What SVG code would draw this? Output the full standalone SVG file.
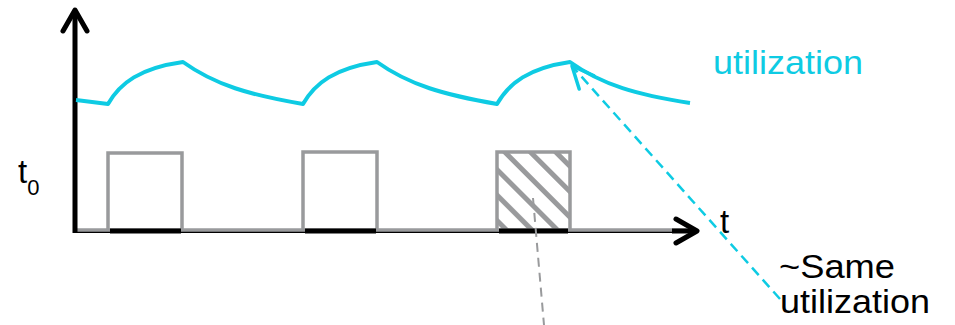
<svg xmlns="http://www.w3.org/2000/svg" width="955" height="325" viewBox="0 0 955 325">
<style>
.txt{font-family:"Liberation Sans",Arial,sans-serif;fill:#000}
.cy{fill:#0ECBE3}
.pulse{fill:none;stroke:#999a9c;stroke-width:3.5}
.curve{fill:none;stroke:#0ECBE3;stroke-width:4;stroke-linejoin:round}
.axis{fill:none;stroke:#000;stroke-width:5}
.on{stroke:#000;stroke-width:5}
</style>
<defs>
<marker id="ah" markerUnits="userSpaceOnUse" markerWidth="40" markerHeight="40" viewBox="-30 -20 40 40" refX="0" refY="0" orient="auto" overflow="visible">
<path d="M-21,-12 L0,0 L-21,12" fill="none" stroke="#000" stroke-width="5" stroke-linecap="round" stroke-linejoin="round"/>
</marker>
<marker id="ahc" markerUnits="userSpaceOnUse" markerWidth="40" markerHeight="40" viewBox="-30 -20 40 40" refX="0" refY="0" orient="auto" overflow="visible">
<path d="M-22,-10 L0,0 L-22,10" fill="none" stroke="#0ECBE3" stroke-width="3.5" stroke-linecap="round" stroke-linejoin="round"/>
</marker>
<pattern id="hatch" patternUnits="userSpaceOnUse" width="18" height="18" patternTransform="rotate(45)">
<rect x="0" y="0" width="18" height="5" fill="#999a9c"/>
</pattern>
</defs>
<rect width="955" height="325" fill="#fff"/>

<g id="pulses">
<path class="pulse" d="M108,231 V153 H182 V231"/>
<path class="pulse" d="M303,231 V152 H377 V231"/>
<rect x="497" y="152" width="72" height="79" fill="url(#hatch)"/>
<path class="pulse" d="M497,231 V152 H570 V231"/>
</g>

<g id="axes">
<line x1="75" y1="232" x2="695" y2="232" stroke="#000" stroke-width="2"/>
<line x1="75" y1="230" x2="690" y2="230" stroke="#999a9c" stroke-width="3.5"/>
<line class="on" x1="110" y1="231" x2="181" y2="231"/>
<line class="on" x1="305" y1="231" x2="376" y2="231"/>
<line class="on" x1="499" y1="231" x2="568" y2="231"/>
<path class="axis" d="M75,233 V10" marker-end="url(#ah)"/>
<path class="axis" d="M672,231 H697" marker-end="url(#ah)"/>
</g>

<g id="utilization-curve">
<path class="curve" d="M76,100 L108,104 C120,83 140,68 183,62 C215,85 250,95 303,104 C315,83 335,68 377,62 C409,85 445,95 497,104 C509,83 529,68 570,62 C602,85 638,95 690,103"/>
</g>

<g id="connectors">
<line x1="780" y1="299" x2="572" y2="66" stroke="#0ECBE3" stroke-width="2.5" stroke-dasharray="10,6" marker-end="url(#ahc)"/>
<line x1="533" y1="198" x2="544" y2="325" stroke="#999a9c" stroke-width="2" stroke-dasharray="9,6"/>
</g>

<g id="labels">
<text class="txt cy" x="713" y="74" font-size="33" textLength="150" lengthAdjust="spacingAndGlyphs">utilization</text>
<text class="txt" x="18" y="183" font-size="33">t<tspan font-size="22" dy="12">0</tspan></text>
<text class="txt" x="720" y="233" font-size="33">t</text>
<text class="txt" x="779" y="278" font-size="33" textLength="116" lengthAdjust="spacingAndGlyphs">~Same</text>
<text class="txt" x="780" y="313" font-size="33" textLength="150" lengthAdjust="spacingAndGlyphs">utilization</text>
</g>
</svg>
